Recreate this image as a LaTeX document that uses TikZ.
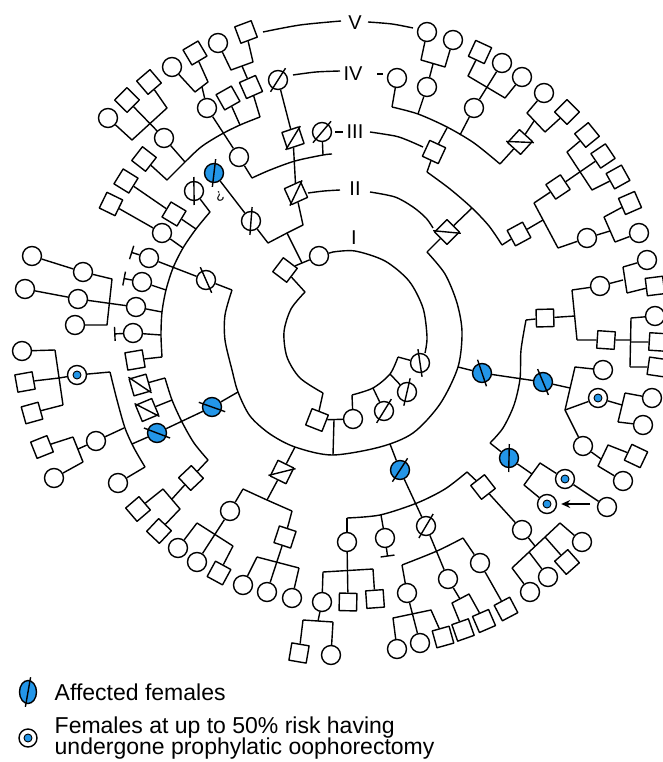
\documentclass[tikz,border=0pt]{standalone}
\usepackage{fontspec}
\setmainfont{Liberation Sans}
\usetikzlibrary{arrows.meta,shapes.geometric}
\definecolor{aff}{RGB}{35,150,232}
\newcommand\Ci[3]{\node[ci] (#1) at (#2,#3) {};}
\newcommand\Sq[3]{\pgfmathsetmacro\qang{atan2(323-#3,#2-355)}\node[sq,rotate=\qang] (#1) at (#2,#3) {};}
\newcommand\Slash[3]{\pgfmathsetmacro\sang{atan2(323-#3,#2-355)-50}\pgfmathsetmacro\sangb{\sang+180}\draw (#1.center) ++(\sang:14pt) -- ++(\sangb:28pt);}
\newcommand\Cd[3]{\Ci{#1}{#2}{#3}\Slash{#1}{#2}{#3}}
\newcommand\Sd[3]{\Sq{#1}{#2}{#3}\Slash{#1}{#2}{#3}}
\newcommand\Ca[3]{\node[ci,fill=aff] (#1) at (#2,#3) {};\Slash{#1}{#2}{#3}}
\newcommand\Co[3]{\Ci{#1}{#2}{#3}\node[dot] (#1d) at (#2,#3) {};}
\newcommand\Tbar[3]{\pgfmathsetmacro\tang{atan2(323-#3,#2-355)}\pgfmathsetmacro\tangp{\tang+90}\pgfmathsetmacro\tangm{\tang-90}\draw (#1.\tang) -- ++(\tang:8pt) ++(\tangp:7pt) -- ++(\tangm:14pt);}
\begin{document}
\begin{tikzpicture}[x=1pt,y=-1pt,line width=1.4pt,line join=round,
  ci/.style={circle,draw,fill=white,minimum size=19pt,inner sep=0pt},
  sq/.style={rectangle,draw,fill=white,minimum size=17.5pt,inner sep=0pt},
  dot/.style={circle,draw,line width=0.9pt,fill=aff,minimum size=8pt,inner sep=0pt},
  lab/.style={font=\fontsize{20}{20}\selectfont,inner sep=0pt},
  legtext/.style={font=\fontsize{23}{21.5}\selectfont,inner sep=0pt,anchor=west,align=left},
  arrowst/.style={line width=1.8pt,-{Stealth[length=9pt,width=8pt]},shorten >=4pt}]
\path[use as bounding box] (0,0) rectangle (663,762);
% ---------- symbols ----------
\Sq{s1}{246}{32}
\Ci{c2}{218}{43}
\Sq{s3}{195}{53}
\Ci{c4}{172}{67}
\Sq{s5}{149}{82}
\Sq{s6}{127}{100}
\Ci{c7}{108}{118}
\Sq{s8}{251}{87}
\Sq{s9}{228}{98}
\Ci{c10}{207}{108}
\Ci{c11}{164}{138}
\Cd{d12}{278}{80}
\Sd{sd13}{293}{138}
\Cd{d14}{322}{132}
\Ci{c15}{239}{157}
\Sq{s16}{144}{159}
\Sq{s17}{126}{181}
\Sq{s18}{111}{204}
\Sq{s19}{174}{214}
\Ci{c20}{162}{233}
\Cd{d21}{194}{191}
\Ca{a22}{214}{173}
\Cd{d23}{251}{221}
\Sd{sd24}{296}{193}
\Ci{c25}{319}{256}
\Sq{s26}{285}{270}
\Ci{c27}{149}{258}\Tbar{c27}{149}{258}
\Ci{c28}{142}{282}\Tbar{c28}{142}{282}
\Cd{d29}{206}{280}
\Ci{c30}{32}{256}
\Ci{c31}{83}{272}
\Ci{c32}{25}{289}
\Ci{c33}{78}{299}
\Ci{c34}{136}{307}
\Ci{c35}{75}{325}
\Ci{c36}{133}{333}\Tbar{c36}{133}{333}
\Sq{s37}{135}{360}
\Sd{sd38}{140}{385}
\Sd{sd39}{147}{410}
\Ca{a40}{157}{433}
\Ca{a41}{212}{407}
\Sq{s42}{191}{478}
\Co{o43}{77}{375}
\Ci{c44}{96}{441}
\Ci{c45}{118}{483}
\Ci{c46}{22}{351}
\Sq{s47}{25}{382}
\Sq{s48}{32}{413}
\Sq{s49}{42}{447}
\Ci{c50}{54}{478}
\Sq{s51}{138}{509}
\Sq{s52}{159}{531}
\Sd{sd53}{282}{472}
\Ci{c54}{230}{511}
\Sq{s55}{285}{537}
\Ci{c56}{178}{548}
\Ci{c57}{197}{562}
\Sq{s58}{219}{573}
\Ci{c59}{243}{585}
\Ci{c60}{267}{592}
\Ci{c61}{292}{598}
\Sq{s62}{317}{420}
\Ci{c63}{353}{419}
\Cd{d64}{384}{411}
\Cd{d65}{407}{392}
\Cd{d66}{420}{363}
\Ca{a67}{400}{470}
\Ci{c68}{347}{542}
\Ci{c69}{385}{538}\Tbar{c69}{385}{538}
\Cd{d70}{426}{526}
\Sq{s71}{483}{487}
\Ci{c72}{322}{602}
\Sq{s73}{348}{602}
\Sq{s74}{375}{599}
\Sq{s75}{299}{653}
\Ci{c76}{331}{655}
\Ci{c77}{407}{593}
\Ci{c78}{448}{579}
\Ci{c79}{480}{563}
\Ci{c80}{397}{649}
\Ci{c81}{420}{643}
\Sq{s82}{443}{637}
\Sq{s83}{463}{630}
\Sq{s84}{484}{621}
\Sq{s85}{506}{609}
\Ci{c86}{522}{530}
\Ci{c87}{582}{542}
\Sq{s88}{567}{562}
\Ci{c89}{548}{577}
\Ci{c90}{530}{592}
\Ca{a91}{482}{373}
\Ca{a92}{543}{382}
\Ca{a93}{509}{458}
\Sq{s94}{545}{318}
\Ci{c95}{603}{370}
\Co{o96}{598}{398}
\Ci{c97}{583}{446}
\Ci{c98}{652}{398}
\Ci{c99}{643}{425}
\Sq{s100}{636}{456}
\Ci{c101}{623}{481}
\Co{o102}{565}{479}
\Co{o103}{547}{504}
\Ci{c104}{607}{507}
\Ci{c105}{600}{286}
\Sq{s106}{606}{340}
\Ci{c107}{647}{260}
\Sq{s108}{655}{286}
\Ci{c109}{655}{316}
\Sq{s110}{658}{342}
\Sq{s111}{657}{367}
\Sd{sd112}{447}{232}
\Sq{s113}{434}{152}
\Sq{s114}{519}{234}
\Sq{s115}{558}{187}
\Ci{c116}{587}{238}
\Sq{s117}{587}{135}
\Sq{s118}{603}{156}
\Sq{s119}{618}{177}
\Sq{s120}{630}{203}
\Ci{c121}{639}{233}
\Ci{c122}{397}{78}
\Ci{c123}{427}{87}
\Ci{c124}{474}{108}
\Sd{sd125}{520}{142}
\Ci{c126}{427}{32}
\Ci{c127}{453}{40}
\Sq{s128}{480}{52}
\Ci{c129}{502}{63}
\Ci{c130}{522}{77}
\Ci{c131}{544}{93}
\Sq{s132}{567}{112}
\node[rotate=200,font=\fontsize{14}{14}\selectfont,inner sep=0pt] (qm) at (220,196) {?};
% ---------- connectors: top-left ----------
\draw (c2) -- (231,70) -- (253,62) -- (s1);
\draw (242,66) -- (s8);
\draw (c4) -- (195,92) -- (208,82) -- (s3);
\draw (202,87) -- (c10);
\draw (c7) -- (132,140) -- (167,108) -- (s5);
\draw (s6) -- (c11);
\draw (c11) -- (185,162);
\draw (s16) -- (167,180) -- (185,162);
\draw plot[smooth] coordinates {(185,162) (201,147) (220,135) (240,125) (260,117)};
\draw (s9) -- (240,125);
\draw (s8) -- (260,117);
\draw (c10) -- (c15);
\draw (c15) -- (252,178);
\draw plot[smooth] coordinates {(252,178) (270,170) (295,161) (323,155) (332,154)};
\draw (d14) -- (323,155);
\draw (d12) -- (sd13);
\draw (sd13) -- (sd24);
\draw (a22) -- (d23);
\draw (d23) -- (268,243) -- (287,233) -- (303,225) -- (sd24);
\draw (287,233) -- (302,263);
\draw (s26) -- (c25);
% inner ring
\draw (s26) -- (305,292);
\draw plot[smooth] coordinates {(305,292) (291,309) (284,332) (287,357) (300,378) (323,393)};
\draw (323,393) -- (s62);
\draw (c25) -- (333,252);
\draw plot[smooth] coordinates {(333,252) (355,251) (385,261) (409,281) (423,308) (427,337) (425,353)};
\draw (d66) -- (398,357);
\draw plot[smooth] coordinates {(398,357) (390,374) (373,388) (352,395)};
\draw (352,395) -- (c63);
\draw (390,374) -- (d65);
\draw (373,388) -- (d64);
\draw (s62) -- (c63);
\draw (334,420) -- (333,455);
% ring II
\draw (d29) -- (232,290);
\draw plot[smooth] coordinates {(232,290) (225,315) (225,340) (232,370) (238,392) (250,416) (270,434) (295,447) (332,455) (380,447) (413,433) (440,404) (458,367) (462,332) (457,303) (445,274) (427,252)};
\draw (427,252) -- (sd112);
\draw (a41) -- (238,392);
\draw (a41) -- (a40);
\draw plot[smooth] coordinates {(165,378) (172,400) (182,422) (194,443) (208,460)};
\draw (sd38) -- (165,378);
\draw (sd39) -- (172,400);
\draw (208,460) -- (s42);
\draw (o43) -- (110,372);
\draw plot[smooth] coordinates {(110,372) (117,400) (125,428) (134,448) (145,467)};
\draw (145,467) -- (c45);
\draw (a40) -- (132,444);
\draw (c44) -- (124,428);
\draw (55,350) -- (63,405);
\draw (c46) -- (55,350);
\draw (s47) -- (59,378);
\draw (s48) -- (63,405);
\draw (o43) -- (59,378);
\draw (73,437) -- (83,462);
\draw (c44) -- (78,449);
\draw (s49) -- (73,437);
\draw (c50) -- (83,462);
\draw (s51) -- (163,489) -- (180,509) -- (s52);
\draw (s42) -- (172,499);
\draw (295,447) -- (sd53);
\draw (sd53) -- (267,500);
\draw plot[smooth] coordinates {(243,489) (267,500) (292,511)};
\draw (292,511) -- (s55);
\draw (243,489) -- (c54);
\draw (197,523) -- (233,546);
\draw (197,523) -- (c56);
\draw (c54) -- (c57);
\draw (233,546) -- (s58);
\draw (257,557) -- (299,568);
\draw (s55) -- (c60);
\draw (257,557) -- (c59);
\draw (299,568) -- (c61);
% left block
\draw (c30) -- (c31);
\draw (c31) -- (112,279) -- (107,325) -- (c35);
\draw (c32) -- (c33);
\draw (c33) -- (c34);
\draw plot[smooth] coordinates {(210,212) (196,229) (183,248) (173,268) (166,290) (162,312) (161,335) (162,357)};
\draw (162,357) -- (s37);
\draw (d21) -- (210,212);
\draw (s19) -- (196,229);
\draw (c20) -- (183,248);
\draw (c27) -- (d29);
\draw (c28) -- (166,290);
\draw (c34) -- (162,312);
\draw (c36) -- (161,335);
\draw (s17) -- (s19);
\draw (s18) -- (c20);
% bottom
\draw (390,444) -- (a67);
\draw (a67) -- (d70);
\draw plot[smooth] coordinates {(347,518) (380,515) (417,503) (445,489) (467,472)};
\draw (467,472) -- (s71);
\draw (347,518) -- (c68);
\draw (381,515) -- (c69);
\draw (c68) -- (s73);
\draw (323,572) -- (373,569);
\draw (323,572) -- (c72);
\draw (373,569) -- (s74);
\draw (c72) -- (318,621);
\draw (303,620) -- (333,622);
\draw (303,620) -- (s75);
\draw (333,622) -- (c76);
\draw plot[smooth] coordinates {(402,565) (437,551) (463,538)};
\draw (463,538) -- (c79);
\draw (402,565) -- (c77);
\draw (d70) -- (c78);
\draw (c80) -- (393,618) -- (431,610) -- (s82);
\draw (c77) -- (c81);
\draw (s83) -- (452,603) -- (469,594) -- (s84);
\draw (c78) -- (460,599);
\draw (c79) -- (s85);
\draw (s71) -- (c86);
\draw (560,523) -- (512,568);
\draw (c86) -- (535,546);
\draw (560,523) -- (c87);
\draw (545,537) -- (s88);
\draw (529,552) -- (c89);
\draw (512,568) -- (c90);
% right
\draw (458,367) -- (a91);
\draw (a91) -- (a92);
\draw (s94) -- (526,320);
\draw plot[smooth] coordinates {(526,320) (521,350) (520,379) (514,405) (503,428) (490,443)};
\draw (490,443) -- (a93);
\draw (c95) -- (575,367) -- (565,410) -- (c97);
\draw (a92) -- (570,388);
\draw (o96) -- (565,410);
\draw (o96) -- (622,405);
\draw (625,393) -- (618,422);
\draw (625,393) -- (c98);
\draw (618,422) -- (c99);
\draw (s100) -- (608,445) -- (598,466) -- (c101);
\draw (c97) -- (601,459);
\draw (o102) -- (540,463) -- (524,485) -- (o103);
\draw (a93) -- (532,474);
\draw (o102) -- (c104);
\coordinate (arrtail) at (590,504);
\draw[arrowst] (arrtail) -- (o103);
\draw (s94) -- (575,316);
\draw (572,290) -- (577,340);
\draw (572,290) -- (c105);
\draw (577,340) -- (s106);
\draw (c105) -- (623,280);
\draw (623,267) -- (627,293);
\draw (623,267) -- (c107);
\draw (627,293) -- (s108);
\draw (s106) -- (631,340);
\draw (631,318) -- (630,367);
\draw (631,318) -- (c109);
\draw (631,342) -- (s110);
\draw (630,367) -- (s111);
% top right
\draw (sd112) -- (472,208);
\draw (s113) -- (427,172);
\draw plot[smooth] coordinates {(427,172) (450,189) (472,208) (489,226) (502,245)};
\draw (502,245) -- (s114);
\draw (s113) -- (447,128);
\draw plot[smooth] coordinates {(392,107) (418,114) (447,127) (474,143) (500,164)};
\draw (c122) -- (392,107);
\draw (c123) -- (418,114);
\draw (c124) -- (460,135);
\draw (500,164) -- (sd125);
\draw (c126) -- (421,60) -- (445,67) -- (c127);
\draw (c123) -- (433,64);
\draw (s128) -- (468,76) -- (505,98) -- (c130);
\draw (c124) -- (c129);
\draw (c131) -- (527,113) -- (545,132) -- (s132);
\draw (sd125) -- (534,121);
\draw (s114) -- (543,220);
\draw (534,203) -- (558,248);
\draw (534,203) -- (s115);
\draw (558,248) -- (c116);
\draw (s117) -- (567,152) -- (592,190) -- (s119);
\draw (s115) -- (s118);
\draw (c116) -- (610,231);
\draw (604,217) -- (615,242);
\draw (604,217) -- (s120);
\draw (615,242) -- (c121);
% generation label lines
\draw plot[smooth] coordinates {(263,32) (300,25) (341,21)};
\draw plot[smooth] coordinates {(368,22) (392,24) (413,28)};
\draw plot[smooth] coordinates {(293,75) (316,72) (340,71)};
\draw (377,74) -- (383,74);
\draw (335,132) -- (343,132);
\draw plot[smooth] coordinates {(370,132) (395,136) (407,140) (423,147)};
\draw plot[smooth] coordinates {(308,193) (324,191) (340,190)};
\draw plot[smooth] coordinates {(370,192) (395,197) (413,207) (426,218) (433,228)};
\node[lab] (lv) at (355,23) {V};
\node[lab] (liv) at (353,74) {IV};
\node[lab] (liii) at (355,132) {III};
\node[lab] (lii) at (355,189) {II};
\node[lab] (li) at (354,238) {I};
% legend
\node[ellipse,draw,fill=aff,minimum width=17pt,minimum height=23pt,inner sep=0pt] (la) at (28,692) {};
\draw (la.center) ++(80:15pt) -- ++(260:30pt);
\node[ci,minimum size=18pt] (lo) at (28,738) {};
\node[dot] (lod) at (28,738) {};
\node[legtext] (lt1) at (54,692) {Affected females};
\node[legtext] (lt2) at (54,738) {Females at up to 50\% risk having\\undergone prophylatic oophorectomy};
\end{tikzpicture}
\end{document}
